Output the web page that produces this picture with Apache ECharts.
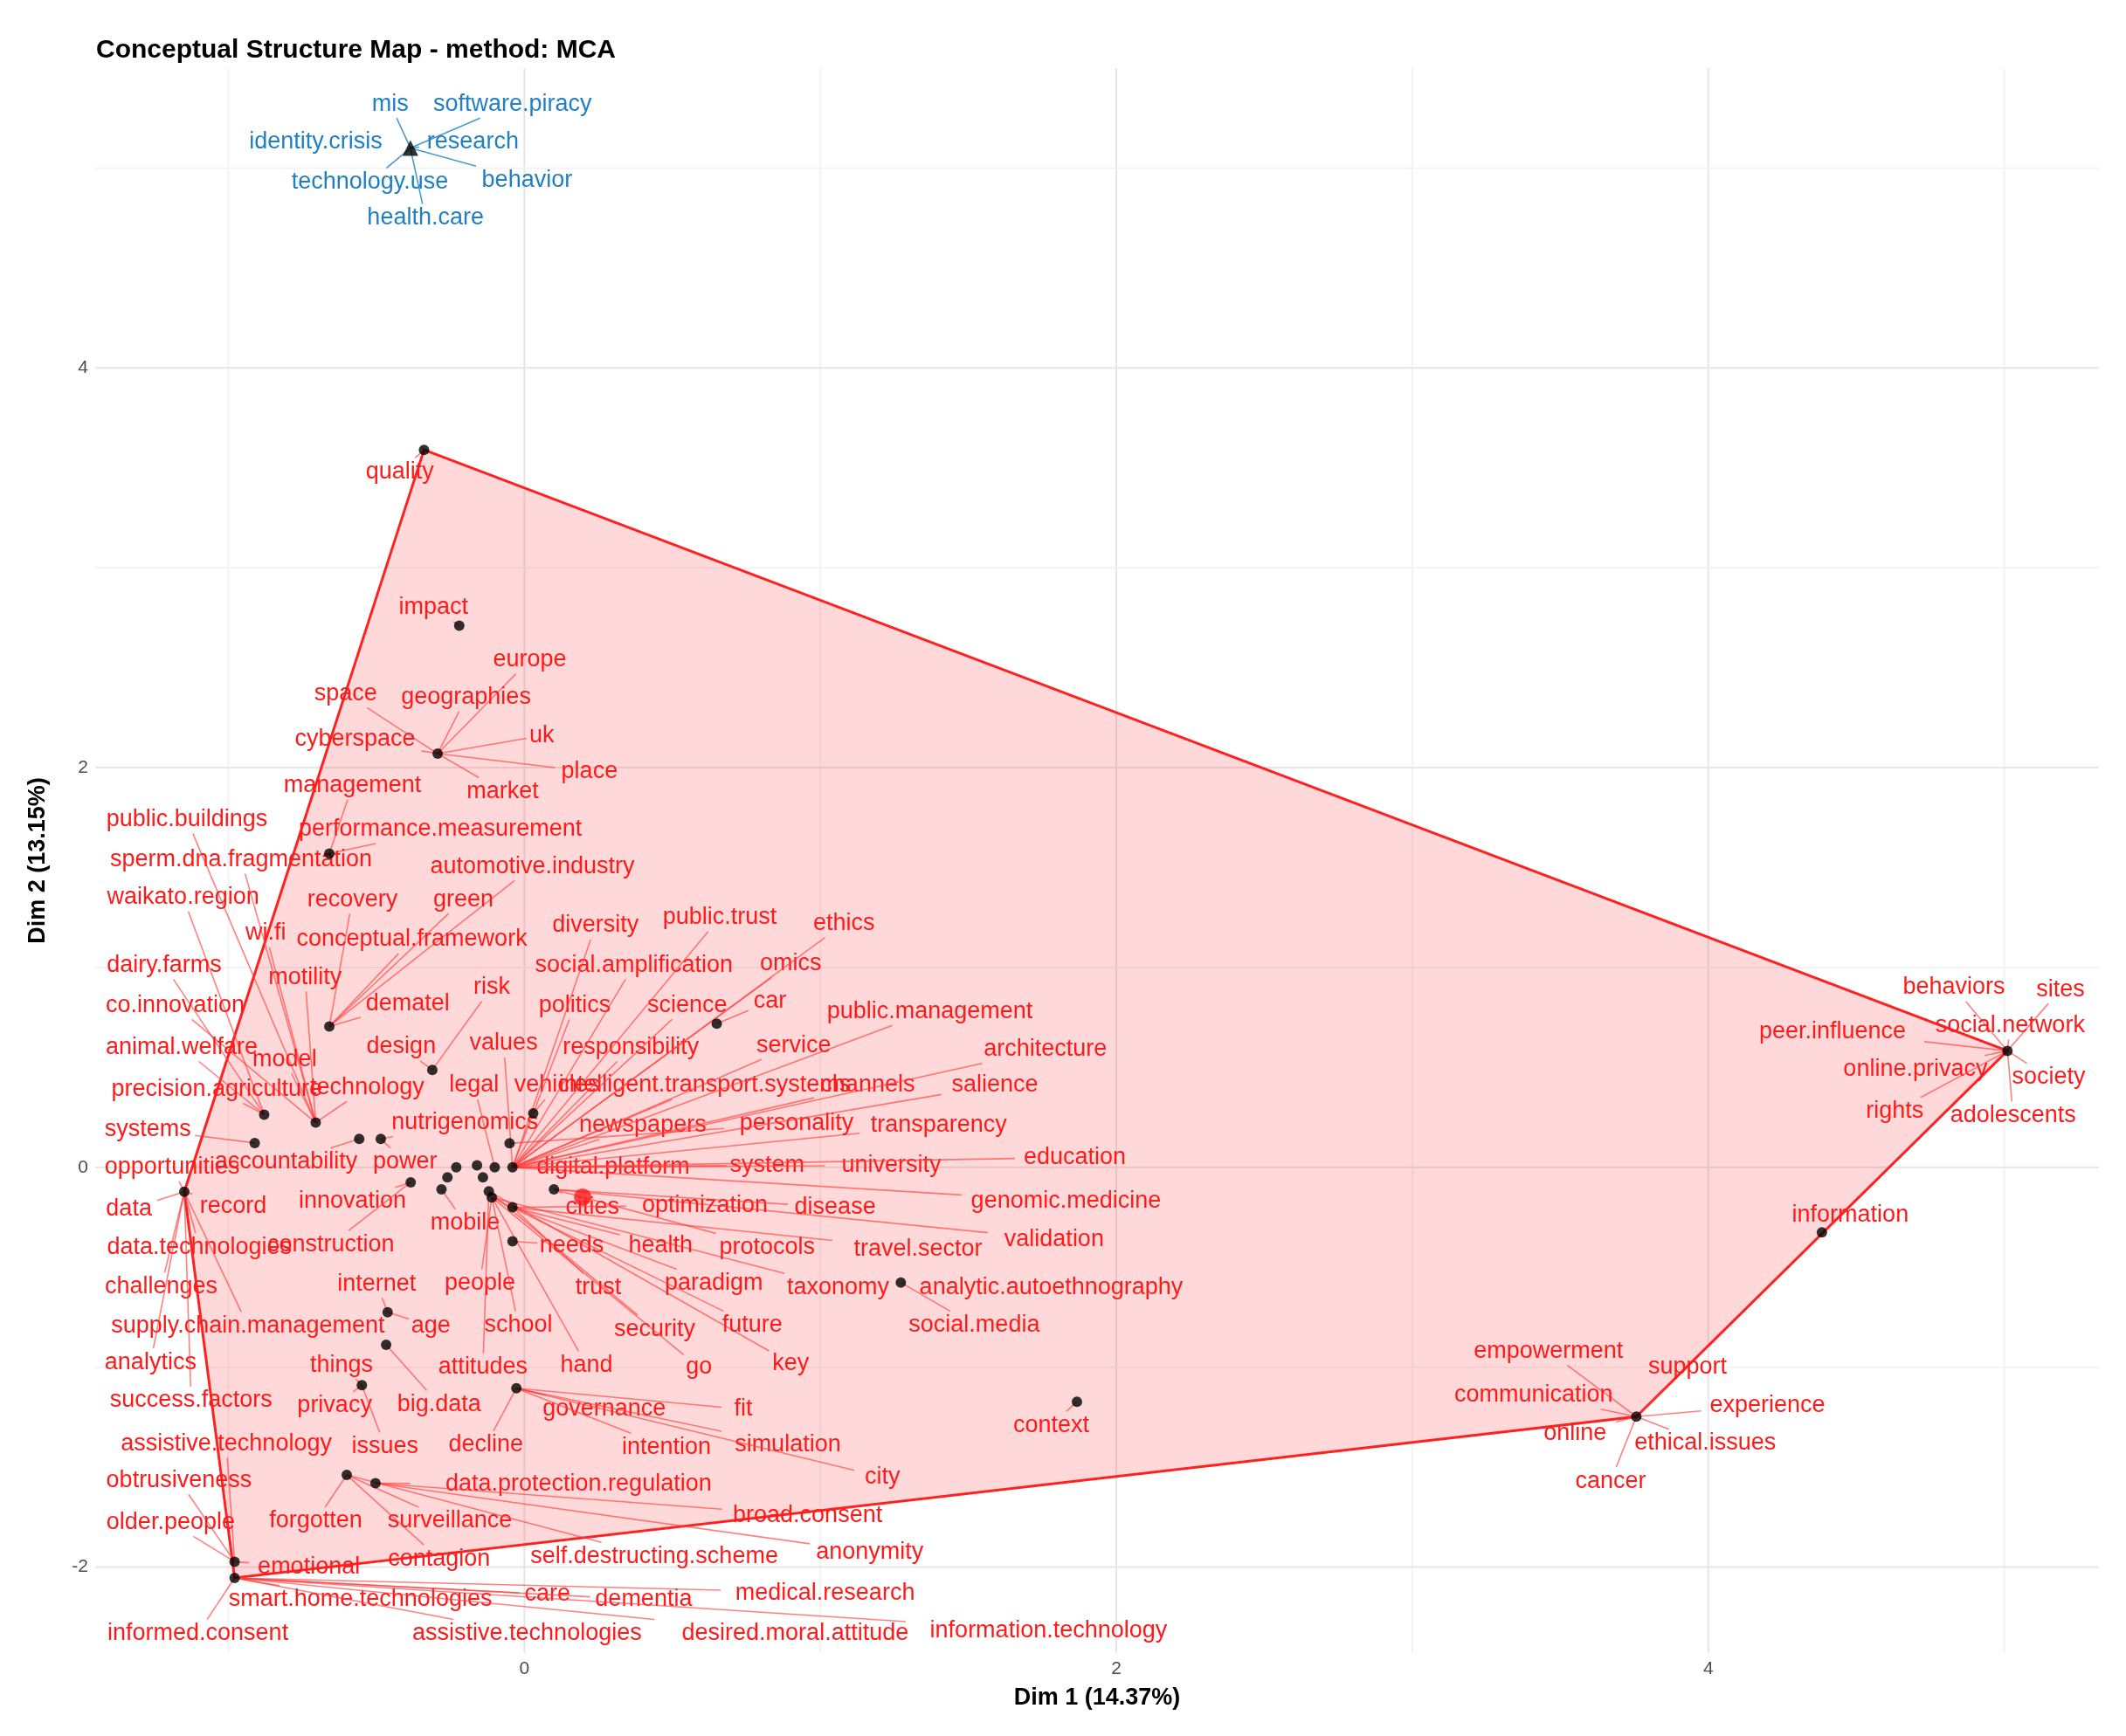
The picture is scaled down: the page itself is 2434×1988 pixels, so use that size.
<!DOCTYPE html>
<html><head><meta charset="utf-8">
<script src="https://cdn.jsdelivr.net/npm/echarts@6/dist/echarts.min.js"></script>
<style>html,body{margin:0;background:#fff}#c{width:2434px;height:1988px}</style>
</head><body><div id="c"></div>
<script>
// cluster points (Dim1, Dim2)
const points = [
 [-0.339,3.59],[-0.22,2.71],[-0.293,2.07],[-0.659,1.57],[-0.659,0.705],   //0-4
 [-0.705,0.224],[-0.879,0.264],[-0.911,0.122],[-1.149,-0.122],[-0.979,-1.973], //5-9
 [-0.979,-2.054],[-0.6,-1.539],[-0.503,-1.58],[-0.549,-1.09],[-0.467,-0.888], //10-14
 [-0.462,-0.725],[-0.558,0.142],[-0.485,0.142],[-0.311,0.488],[-0.384,-0.075], //15-19
 [-0.23,0.00],[-0.26,-0.05],[-0.28,-0.11],[-0.16,0.01],[-0.14,-0.05],        //20-24
 [-0.12,-0.12],[-0.10,0.00],[-0.04,0.00],[-0.05,0.12],[0.03,0.27],           //25-29
 [-0.11,-0.15],[0.10,-0.11],[-0.04,-0.20],[-0.04,-0.37],[0.65,0.719],        //30-34
 [1.272,-0.576],[-0.027,-1.105],[1.867,-1.173],[5.011,0.583],[4.384,-0.325], //35-39
 [3.757,-1.247]                                                              //40
];
const hull = [0,38,40,10,8];
const blueCenter = [-0.385,5.10];
const centroid = [0.197,-0.149];
const xMinorTicks = [-1,0,1,2,3,4,5];
const xTickLabels = [0,2,4];
const yMinorTicks = [-2,-1,0,1,2,3,4,5];
const yTickLabels = [-2,0,2,4];
// blue cluster words: [label, labelX, labelY]
const blueWords = [
 ["mis",-0.453,5.32],["software.piracy",-0.04,5.32],["identity.crisis",-0.705,5.13],
 ["research",-0.174,5.13],["technology.use",-0.522,4.93],["behavior",0.009,4.94],["health.care",-0.334,4.75]
];
// red words: [label, labelX, labelY, point index]
const words = [
 ["quality",-0.421,3.48,0],["impact",-0.307,2.80,1],
 ["europe",0.018,2.54,2],["space",-0.604,2.37,2],["geographies",-0.197,2.35,2],["cyberspace",-0.572,2.14,2],
 ["uk",0.059,2.16,2],["market",-0.073,1.88,2],["place",0.22,1.98,2],
 ["management",-0.581,1.91,3],["performance.measurement",-0.284,1.69,3],["public.buildings",-1.14,1.74,5],
 ["sperm.dna.fragmentation",-0.957,1.54,5],
 ["automotive.industry",0.027,1.505,4],["green",-0.206,1.34,4],["recovery",-0.581,1.34,4],
 ["conceptual.framework",-0.38,1.14,4],["motility",-0.741,0.95,5],["dematel",-0.394,0.82,4],
 ["wi.fi",-0.874,1.17,5],["waikato.region",-1.153,1.35,6],
 ["dairy.farms",-1.217,1.01,6],["co.innovation",-1.18,0.81,5],["animal.welfare",-1.158,0.60,6],
 ["model",-0.81,0.54,5],["precision.agriculture",-1.039,0.39,6],["technology",-0.531,0.40,5],
 ["systems",-1.272,0.19,7],
 ["opportunities",-1.19,0.0,8],["data",-1.336,-0.21,8],["record",-0.984,-0.197,8],
 ["data.technologies",-1.098,-0.40,8],["challenges",-1.227,-0.597,8],["supply.chain.management",-0.934,-0.793,8],
 ["analytics",-1.263,-0.976,8],["success.factors",-1.126,-1.166,8],
 ["assistive.technology",-1.007,-1.383,9],["obtrusiveness",-1.167,-1.566,9],["older.people",-1.195,-1.776,9],
 ["emotional",-0.728,-2.0,9],["smart.home.technologies",-0.554,-2.163,10],["informed.consent",-1.103,-2.332,10],
 ["care",0.078,-2.136,10],["dementia",0.403,-2.163,10],["assistive.technologies",0.009,-2.332,10],
 ["desired.moral.attitude",0.915,-2.332,10],["information.technology",1.771,-2.319,10],["medical.research",1.016,-2.129,10],
 ["forgotten",-0.705,-1.77,11],["surveillance",-0.252,-1.77,11],["contagion",-0.288,-1.959,11],
 ["data.protection.regulation",0.183,-1.586,12],["broad.consent",0.957,-1.742,12],
 ["self.destructing.scheme",0.439,-1.946,11],["anonymity",1.167,-1.925,12],
 ["privacy",-0.641,-1.193,13],["issues",-0.471,-1.397,13],["things",-0.618,-0.99,13],
 ["big.data",-0.288,-1.186,14],["internet",-0.499,-0.583,15],["age",-0.316,-0.793,15],
 ["accountability",-0.805,0.027,16],["nutrigenomics",-0.201,0.224,17],["power",-0.403,0.027,17],
 ["design",-0.416,0.603,18],["risk",-0.11,0.90,18],
 ["innovation",-0.581,-0.17,19],["construction",-0.654,-0.386,19],
 ["mobile",-0.20,-0.28,22],["people",-0.15,-0.58,30],["school",-0.02,-0.79,30],["attitudes",-0.14,-1.00,25],
 ["hand",0.21,-0.99,30],["security",0.44,-0.81,25],["go",0.59,-1.00,30],["key",0.90,-0.98,25],
 ["future",0.77,-0.79,30],["trust",0.25,-0.60,32],["paradigm",0.64,-0.58,32],["taxonomy",1.06,-0.60,30],
 ["needs",0.16,-0.39,33],["health",0.46,-0.39,32],["protocols",0.82,-0.40,31],["travel.sector",1.33,-0.41,32],
 ["validation",1.79,-0.36,31],["cities",0.23,-0.20,31],["optimization",0.61,-0.19,32],["disease",1.05,-0.20,31],
 ["genomic.medicine",1.83,-0.17,27],["digital.platform",0.30,0.00,27],["system",0.82,0.01,27],
 ["university",1.24,0.01,27],["education",1.86,0.05,27],["transparency",1.40,0.21,27],
 ["personality",0.92,0.22,28],["newspapers",0.40,0.21,27],["legal",-0.17,0.41,26],["vehicles",0.11,0.41,29],
 ["intelligent.transport.systems",0.61,0.41,27],["channels",1.16,0.41,27],["salience",1.59,0.41,27],
 ["values",-0.07,0.62,27],["responsibility",0.36,0.60,27],["service",0.91,0.61,27],["architecture",1.76,0.59,27],
 ["politics",0.17,0.81,27],["science",0.55,0.81,27],["car",0.83,0.83,34],["public.management",1.37,0.78,27],
 ["social.amplification",0.37,1.01,27],["omics",0.90,1.02,27],["diversity",0.24,1.21,27],
 ["public.trust",0.66,1.25,27],["ethics",1.08,1.22,27],
 ["analytic.autoethnography",1.78,-0.60,35],["social.media",1.52,-0.79,35],
 ["governance",0.27,-1.21,36],["fit",0.74,-1.21,36],["intention",0.48,-1.40,36],["simulation",0.89,-1.39,36],
 ["city",1.21,-1.55,36],["decline",-0.13,-1.39,36],["context",1.78,-1.29,37],
 ["behaviors",4.83,0.90,38],["sites",5.19,0.89,38],["social.network",5.02,0.71,38],["peer.influence",4.42,0.68,38],
 ["online.privacy",4.70,0.49,38],["society",5.15,0.45,38],["rights",4.63,0.28,38],["adolescents",5.03,0.26,38],
 ["information",4.48,-0.24,39],
 ["empowerment",3.46,-0.92,40],["support",3.93,-1.00,40],["communication",3.41,-1.14,40],["experience",4.20,-1.19,40],
 ["online",3.55,-1.33,40],["ethical.issues",3.99,-1.38,40],["cancer",3.67,-1.57,40]
];
const FS = 27, FONT = 'Liberation Sans, Arial, sans-serif';
function labelItem(api, lx, ly, px, py, text, color, lineColor){
  const c = api.coord([lx,ly]), p = api.coord([px,py]);
  const hw = text.length*FS*0.27+3, hh = 16;
  const dx = p[0]-c[0], dy = p[1]-c[1];
  const t = Math.min(dx?hw/Math.abs(dx):1e9, dy?hh/Math.abs(dy):1e9);
  const ch = [];
  if (t < 0.95) ch.push({type:'line', shape:{x1:c[0]+dx*t,y1:c[1]+dy*t,x2:p[0],y2:p[1]}, style:{stroke:lineColor,lineWidth:1.6}});
  ch.push({type:'text', style:{x:c[0],y:c[1],text:text,fill:color,font:FS+'px '+FONT,align:'center',verticalAlign:'middle'}});
  return {type:'group', children:ch};
}
function gridSeries(){
  return {type:'custom', silent:true, z:0, data:[0], renderItem:(params, api)=>{
    const ch=[];
    const x0=api.coord([-1.45,0])[0], x1=api.coord([5.32,0])[0];
    const y0=api.coord([0,-2.43])[1], y1=api.coord([0,5.5])[1];
    xMinorTicks.forEach(v=>{const x=api.coord([v,0])[0];
      ch.push({type:'line',shape:{x1:x,y1:y0,x2:x,y2:y1},style:{stroke:v%2===0?'#e6e6e6':'#f3f3f3',lineWidth:2}});});
    yMinorTicks.forEach(v=>{const y=api.coord([0,v])[1];
      ch.push({type:'line',shape:{x1:x0,y1:y,x2:x1,y2:y},style:{stroke:v%2===0?'#e6e6e6':'#f3f3f3',lineWidth:2}});});
    return {type:'group',children:ch};
  }};
}
const chart = echarts.init(document.getElementById('c'));
const ax = (name, min, max, labels, gap) => ({
  type:'value', min, max, name, nameLocation:'middle', nameGap:gap,
  nameTextStyle:{fontWeight:'bold', fontSize:27, color:'#000', fontFamily:FONT},
  axisLine:{show:false}, axisTick:{show:false, customValues:labels},
  axisLabel:{fontSize:21, color:'#4d4d4d', fontFamily:FONT, customValues:labels},
  splitLine:{show:false}
});
chart.setOption({
  animation:false,
  title:{text:'Conceptual Structure Map - method: MCA', left:105, top:38, textStyle:{fontSize:30, fontWeight:'bold', color:'#000', fontFamily:FONT}},
  grid:{left:109, right:31, top:78, bottom:95},
  xAxis: ax('Dim 1 (14.37%)', -1.45, 5.32, xTickLabels, 38),
  yAxis: ax('Dim 2 (13.15%)', -2.43, 5.5, yTickLabels, 52),
  series:[
    gridSeries(),
    {type:'custom', renderItem:(params, api)=>{
        const pts = hull.map(i=>api.coord(points[i]));
        return {type:'polygon', shape:{points:pts}, style:{fill:'rgba(255,0,0,0.15)', stroke:'#ff2020', lineWidth:3}};
      }, data:[0], silent:true, z:1},
    {type:'custom', renderItem:(params, api)=>{
        const w = words[params.dataIndex]; const p = points[w[3]];
        return labelItem(api, w[1], w[2], p[0], p[1], w[0], '#ff1a1a', 'rgba(255,60,60,0.65)');
      }, data:words.map((w,i)=>i), silent:true, z:2},
    {type:'custom', renderItem:(params, api)=>{
        const w = blueWords[params.dataIndex];
        return labelItem(api, w[1], w[2], blueCenter[0], blueCenter[1], w[0], '#1f7fc4', 'rgba(31,127,196,0.8)');
      }, data:blueWords.map((w,i)=>i), silent:true, z:2},
    {type:'scatter', data:points, symbolSize:12, itemStyle:{color:'#000'}, z:5},
    {type:'scatter', data:[blueCenter], symbol:'triangle', symbolSize:18, itemStyle:{color:'#000'}, z:5},
    {type:'scatter', data:[centroid], symbolSize:20, itemStyle:{color:'#ff1a1a'}, z:5}
  ]
});
</script></body></html>
